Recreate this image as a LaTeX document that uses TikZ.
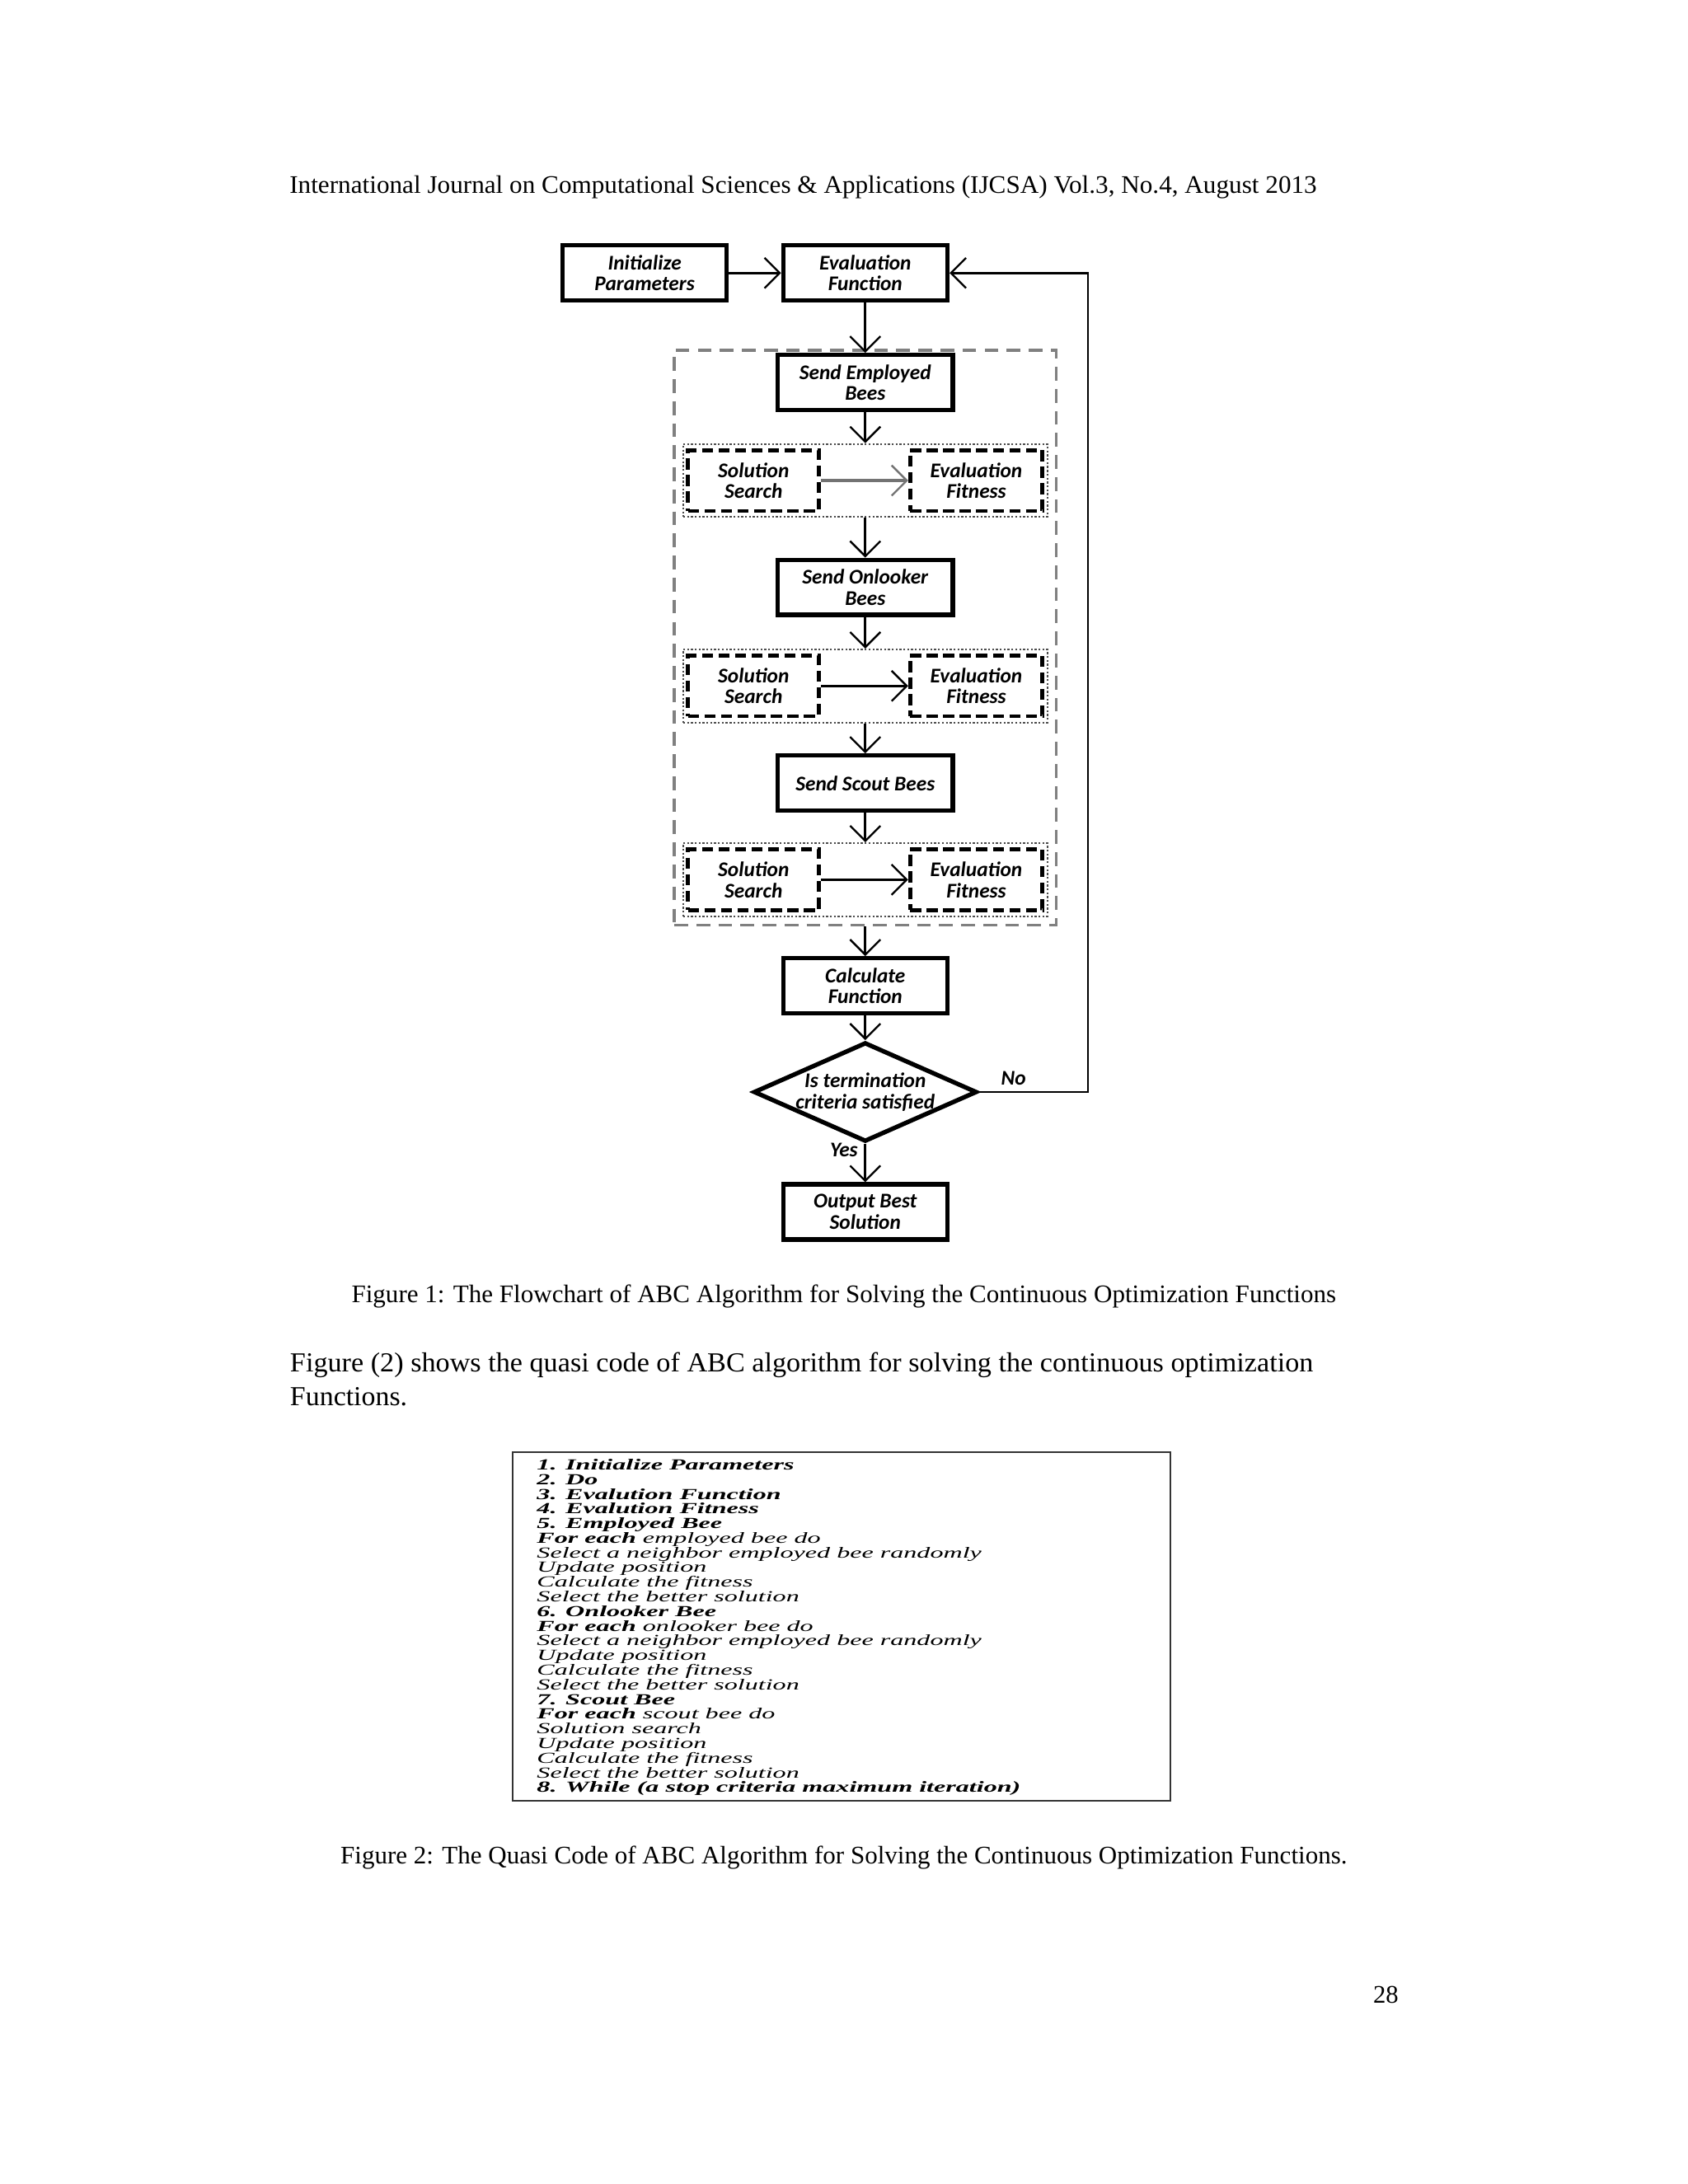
\documentclass[tikz,border=0pt]{standalone}
\usepackage{fontspec}
\usepackage{graphicx}
\setmainfont{Liberation Serif}
\newfontfamily\flowfont{Carlito}
\newfontfamily\codefont{Liberation Serif}[FakeStretch=1.72]
\usetikzlibrary{arrows.meta,shapes.geometric}
\newcommand\flowtext{\flowfont\bfseries\itshape\fontsize{7.6}{7.7}\selectfont}
\newcommand\pagetext{\fontsize{9.2}{10}\selectfont}
\tikzset{
  arr/.style={draw=black, line width=0.8bp, -{Straight Barb[length=5.5bp,width=11bp,line width=0.7bp]}},
  garr/.style={arr, draw=black!55, line width=1.1bp},
  fbox/.style={draw=black, line width=1.6bp, minimum width=59.5bp, minimum height=20bp, inner sep=0pt, align=center, font=\flowtext},
  sbox/.style={fbox, minimum width=63.5bp},
  dbox/.style={draw=black, line width=1.4bp, dash pattern=on 4bp off 2bp, minimum height=22bp, inner sep=0pt, align=center, font=\flowtext},
  grp/.style={draw=black!70, line width=0.6bp, dash pattern=on 0.7bp off 0.7bp, minimum width=132bp, minimum height=26.5bp, inner sep=0pt},
  outerbox/.style={draw=black!50, line width=1.1bp, dash pattern=on 5bp off 3bp, minimum width=138.5bp, minimum height=208.5bp, inner sep=0pt},
  lbl/.style={inner sep=0pt, font=\flowtext},
  ptext/.style={inner sep=0pt, font=\pagetext},
  codeline/.style={inner sep=0pt, anchor=base west, font=\codefont\itshape\fontsize{5.6}{5.3}\selectfont},
}
\begin{document}
\begin{tikzpicture}[x=0.5bp,y=-0.5bp]
\fill[white] (0,0) rectangle (1224,1584);
\useasboundingbox (0,0) rectangle (1224,1584);

% page texts
\node[ptext] (hdr) at (582.5,136) {\resizebox{372.5bp}{\height}{International Journal on Computational Sciences \& Applications (IJCSA) Vol.3, No.4, August 2013}};
\node[ptext] (cap1) at (612,940) {\resizebox{357bp}{\height}{Figure 1: The Flowchart of ABC Algorithm for Solving the Continuous Optimization Functions}};
\node[inner sep=0pt, anchor=west, font=\fontsize{10}{11}\selectfont] (body1) at (210,990) {\resizebox{371bp}{\height}{Figure (2) shows the quasi code of ABC algorithm for solving the continuous optimization}};
\node[inner sep=0pt, anchor=west, font=\fontsize{10}{11}\selectfont] (body2) at (210,1013) {\resizebox{42.5bp}{\height}{Functions.}};
\node[ptext] (cap2) at (612,1347) {\resizebox{365bp}{\height}{Figure 2: The Quasi Code of ABC Algorithm for Solving the Continuous Optimization Functions.}};
\node[ptext] (pnum) at (1005,1447) {28};

% flowchart
\node[outerbox] (outer) at (627.5,462.5) {};
\node[fbox] (init) at (467.5,198) {Initialize\\Parameters};
\node[fbox] (evalf) at (627.5,198) {Evaluation\\Function};
\node[sbox] (sendemp) at (627.5,277.5) {Send Employed\\Bees};
\node[grp] (g1) at (627.5,348.5) {};
\node[dbox, minimum width=47.5bp] (ss1) at (546.5,348.5) {Solution\\Search};
\node[dbox, minimum width=48bp] (ef1) at (708,348.5) {Evaluation\\Fitness};
\node[sbox] (sendonl) at (627.5,426) {Send Onlooker\\Bees};
\node[grp] (g2) at (627.5,497.5) {};
\node[dbox, minimum width=47.5bp] (ss2) at (546.5,497.5) {Solution\\Search};
\node[dbox, minimum width=48bp] (ef2) at (708,497.5) {Evaluation\\Fitness};
\node[sbox] (sendsc) at (627.5,568) {Send Scout Bees};
\node[grp] (g3) at (627.5,638) {};
\node[dbox, minimum width=47.5bp] (ss3) at (546.5,638) {Solution\\Search};
\node[dbox, minimum width=48bp] (ef3) at (708,638) {Evaluation\\Fitness};
\node[fbox] (calc) at (627.5,715) {Calculate\\Function};
\node[draw=black, diamond, line width=1.6bp, minimum width=81bp, minimum height=36bp, inner sep=0pt] (dec) at (627.5,792) {};
\node[lbl, align=center] (dectext) at (dec.center) {Is termination\\criteria satisfied};
\node[fbox] (output) at (627.5,879) {Output Best\\Solution};
\node[lbl] (nolbl) at (735,782) {No};
\node[lbl] (yeslbl) at (612,834) {Yes};
\coordinate (loopc) at (789,792);

\draw[arr] (init.east) -- (evalf.west);
\draw[arr] (evalf.south) -- (sendemp.north);
\draw[arr] (sendemp.south) -- (g1.north);
\draw[garr] (ss1.east) -- (ef1.west);
\draw[arr] (g1.south) -- (sendonl.north);
\draw[arr] (sendonl.south) -- (g2.north);
\draw[arr] (ss2.east) -- (ef2.west);
\draw[arr] (g2.south) -- (sendsc.north);
\draw[arr] (sendsc.south) -- (g3.north);
\draw[arr] (ss3.east) -- (ef3.west);
\draw[arr] (outer.south) -- (calc.north);
\draw[arr] (calc.south) -- (dec.north);
\draw[arr] (dec.south) -- (output.north);
\draw[arr] (dec.east) -- (loopc) |- (evalf.east);

% code box
\node[draw=black!80, line width=0.6bp, minimum width=238.5bp, minimum height=126.5bp, inner sep=0pt] (codebox) at (610.5,1179.5) {};
\foreach \t [count=\i] in {
  {\bfseries 1. Initialize Parameters},
  {\bfseries 2. Do},
  {\bfseries 3. Evalution Function},
  {\bfseries 4. Evalution Fitness},
  {\bfseries 5. Employed Bee},
  {{\bfseries For each} employed bee do},
  {Select a neighbor employed bee randomly},
  {Update position},
  {Calculate the fitness},
  {Select the better solution},
  {\bfseries 6. Onlooker Bee},
  {{\bfseries For each} onlooker bee do},
  {Select a neighbor employed bee randomly},
  {Update position},
  {Calculate the fitness},
  {Select the better solution},
  {\bfseries 7. Scout Bee},
  {{\bfseries For each} scout bee do},
  {Solution search},
  {Update position},
  {Calculate the fitness},
  {Select the better solution},
  {\bfseries 8. While (a stop criteria maximum iteration)}}
{
  \node[codeline] (code\i) at (389,{1066+(\i-1)*10.636}) {\t};
}
\end{tikzpicture}
\end{document}
